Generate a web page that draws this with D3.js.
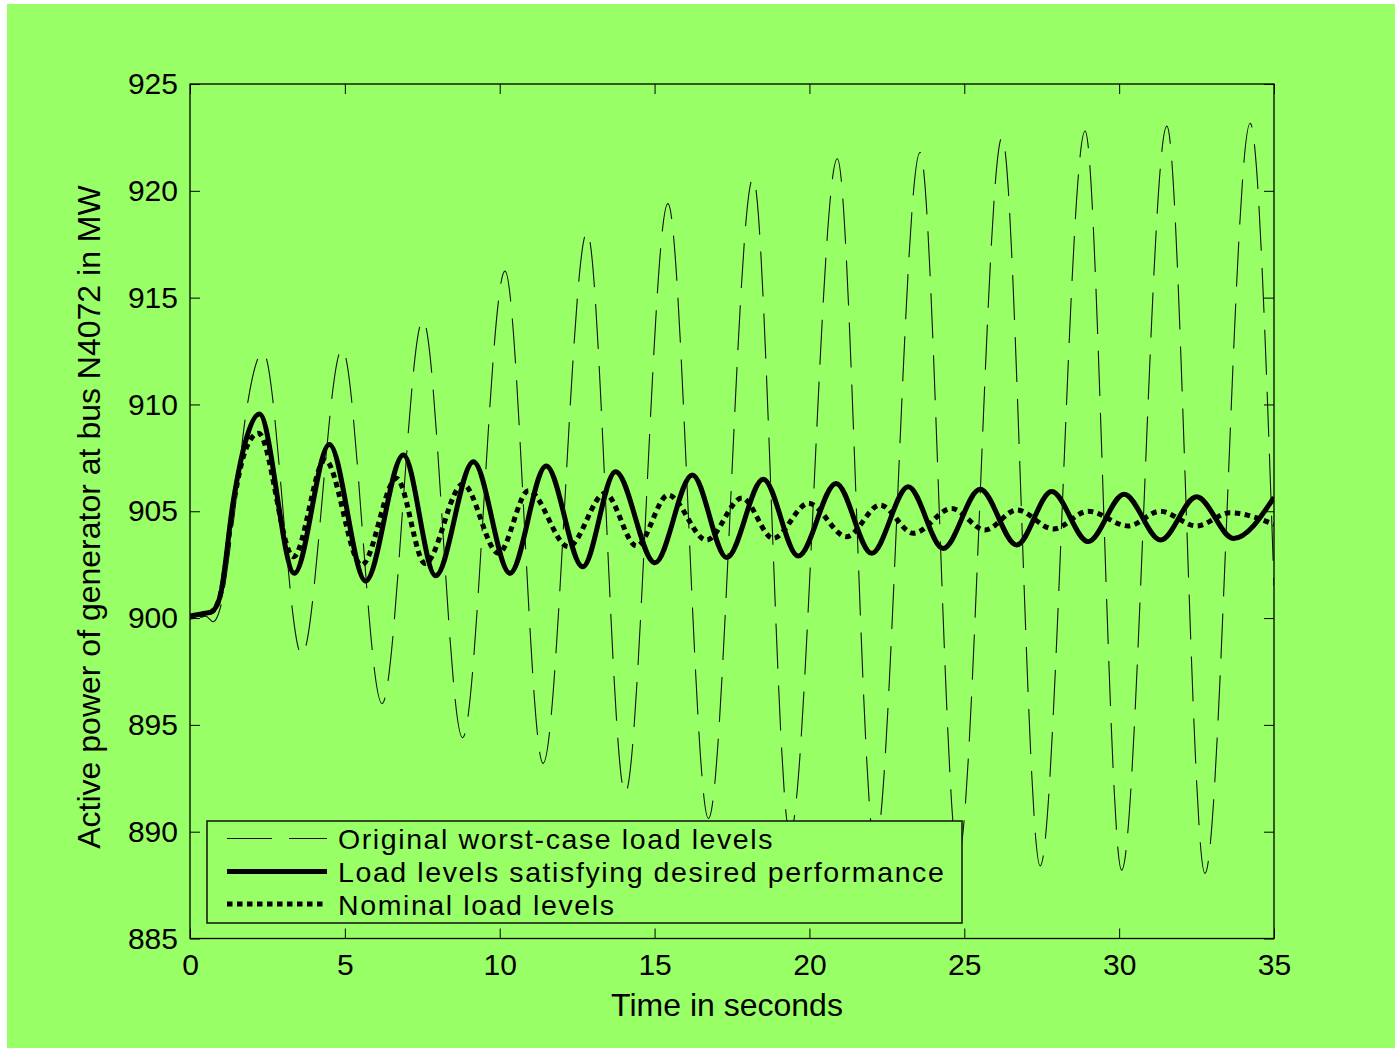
<!DOCTYPE html>
<html>
<head>
<meta charset="utf-8">
<script src="https://cdn.jsdelivr.net/npm/d3@7/dist/d3.min.js"></script>
<style>
  html, body { margin: 0; padding: 0; background: #ffffff; }
  svg { display: block; }
  text { font-family: "Liberation Sans", Arial, Helvetica, sans-serif; fill: #000; }
</style>
</head>
<body>
<svg id="chart" width="1395" height="1048"></svg>
<script>
// Axis ticks
const xTicks = [0, 5, 10, 15, 20, 25, 30, 35];
const yTicks = [885, 890, 895, 900, 905, 910, 915, 920, 925];

// Original worst-case load levels: time (s) and active power (MW) at turning points
const worstTime  = [0, 0.5, 0.75, 1.0, 1.4, 1.8, 2.36, 3.61, 4.91, 6.2, 7.52, 8.8, 10.17, 11.4, 12.82, 14.05, 15.43, 16.74, 18.18, 19.37, 20.9, 22.12, 23.57, 24.8, 26.22, 27.45, 28.9, 30.08, 31.54, 32.77, 34.23, 35.0];
const worstPower = [900.05, 900.1, 899.83, 900.6, 904.5, 909.5, 912.45, 898.27, 912.6, 896.0, 913.95, 894.4, 916.24, 893.2, 918.07, 891.8, 919.4, 890.62, 920.6, 889.9, 921.5, 889.3, 921.8, 888.8, 922.5, 888.4, 922.8, 888.2, 923.03, 888.05, 923.16, 901.5];

// Load levels satisfying desired performance
const desiredTime  = [0, 0.4, 0.7, 0.97, 1.4, 1.78, 2.24, 3.37, 4.5, 5.67, 6.89, 7.93, 9.15, 10.33, 11.5, 12.68, 13.74, 15.01, 16.22, 17.33, 18.51, 19.64, 20.86, 22.01, 23.19, 24.32, 25.51, 26.69, 27.82, 29.0, 30.16, 31.34, 32.5, 33.69, 35.0];
const desiredPower = [900.1, 900.2, 900.3, 901.0, 905.5, 908.2, 909.55, 902.1, 908.13, 901.73, 907.63, 901.98, 907.32, 902.1, 907.12, 902.4, 906.85, 902.59, 906.7, 902.83, 906.5, 902.9, 906.3, 903.03, 906.15, 903.26, 906.03, 903.42, 905.92, 903.58, 905.8, 903.65, 905.68, 903.73, 905.65];

// Nominal load levels
const nominalTime  = [0, 0.7, 1.0, 1.4, 1.8, 2.21, 3.34, 4.36, 5.54, 6.67, 7.59, 8.81, 9.96, 10.93, 12.22, 13.4, 14.42, 15.44, 16.68, 17.82, 18.83, 19.97, 21.2, 22.28, 23.36, 24.59, 25.67, 26.69, 27.88, 29.0, 30.3, 31.32, 32.5, 33.58, 35.0];
const nominalPower = [900.05, 900.3, 901.2, 905.3, 907.9, 908.65, 902.87, 907.4, 902.48, 906.54, 902.56, 906.27, 903.03, 905.96, 903.34, 905.84, 903.37, 905.76, 903.65, 905.62, 903.73, 905.37, 903.81, 905.29, 903.97, 905.13, 904.12, 905.06, 904.17, 905.0, 904.31, 905.0, 904.31, 904.93, 904.38];

const seriesNames = [
  "Original worst-case load levels",
  "Load levels satisfying desired performance",
  "Nominal load levels"
];

const W = 1395, H = 1048;
const plot = { left: 190, right: 1274, top: 84, bottom: 938.5 };
const bg = "#99ff66";

const svg = d3.select("#chart");

// page background
svg.append("rect").attr("x", 0).attr("y", 0).attr("width", W).attr("height", H).attr("fill", "#ffffff");
svg.append("rect").attr("x", 7).attr("y", 4).attr("width", W - 7).attr("height", H - 4).attr("fill", bg);

const x = d3.scaleLinear().domain([0, 35]).range([plot.left, plot.right]);
const y = d3.scaleLinear().domain([885, 925]).range([plot.bottom, plot.top]);

const zip = (t, v) => t.map((d, i) => [d, v[i]]);
const line = d3.line().x(d => x(d[0])).y(d => y(d[1])).curve(d3.curveMonotoneX);

// clip to plot box
svg.append("clipPath").attr("id", "plotClip")
  .append("rect").attr("x", plot.left).attr("y", plot.top)
  .attr("width", plot.right - plot.left).attr("height", plot.bottom - plot.top);

const lines = svg.append("g").attr("clip-path", "url(#plotClip)");

const styles = [
  { width: 1.1, dash: "45,17", color: "#111" },
  { width: 5, dash: null, color: "#000" },
  { width: 5, dash: "5.5,4.5", color: "#000" }
];
const data = [zip(worstTime, worstPower), zip(desiredTime, desiredPower), zip(nominalTime, nominalPower)];

// nominal drawn first so the thick solid sits over it, worst-case on top
[2, 1, 0].forEach(i => {
  lines.append("path")
    .datum(data[i])
    .attr("fill", "none")
    .attr("stroke", styles[i].color)
    .attr("stroke-width", styles[i].width)
    .attr("stroke-dasharray", styles[i].dash)
    .attr("stroke-linejoin", "round")
    .attr("d", line);
});

// axes with inward ticks on all four sides
const fontPx = 30;
const gx = svg.append("g").attr("transform", `translate(0,${plot.bottom})`)
  .call(d3.axisBottom(x).tickValues(xTicks).tickSize(-10).tickPadding(15.5).tickFormat(d3.format("d")));
const gy = svg.append("g").attr("transform", `translate(${plot.left},0)`)
  .call(d3.axisLeft(y).tickValues(yTicks).tickSize(-10).tickPadding(12).tickFormat(d3.format("d")));
const gt = svg.append("g").attr("transform", `translate(0,${plot.top})`)
  .call(d3.axisTop(x).tickValues(xTicks).tickSize(-10).tickFormat(""));
const gr = svg.append("g").attr("transform", `translate(${plot.right},0)`)
  .call(d3.axisRight(y).tickValues(yTicks).tickSize(-10).tickFormat(""));

[gx, gy, gt, gr].forEach(g => {
  g.select(".domain").remove();
  g.selectAll(".tick line").attr("stroke", "#000").attr("stroke-width", 1);
  g.selectAll("text")
    .attr("font-size", fontPx)
    .attr("font-family", "'Liberation Sans', Arial, sans-serif")
    .attr("fill", "#000");
});

// plot frame
svg.append("rect")
  .attr("x", plot.left).attr("y", plot.top)
  .attr("width", plot.right - plot.left).attr("height", plot.bottom - plot.top)
  .attr("fill", "none").attr("stroke", "#000").attr("stroke-width", 1.3);

// axis titles
svg.append("text")
  .attr("x", 727).attr("y", 1016)
  .attr("text-anchor", "middle").attr("font-size", 32)
  .text("Time in seconds");
svg.append("text")
  .attr("transform", "translate(100,517) rotate(-90)")
  .attr("text-anchor", "middle").attr("font-size", 32)
  .text("Active power of generator at bus N4072 in MW");

// legend
const lg = { x: 207, y: 821, w: 755, h: 102 };
const legend = svg.append("g");
legend.append("rect")
  .attr("x", lg.x).attr("y", lg.y).attr("width", lg.w).attr("height", lg.h)
  .attr("fill", bg).attr("stroke", "#111").attr("stroke-width", 1.5);
const rowY = [838.5, 871.5, 904];
seriesNames.forEach((name, i) => {
  legend.append("line")
    .attr("x1", 227).attr("x2", 327).attr("y1", rowY[i]).attr("y2", rowY[i])
    .attr("stroke", styles[i].color)
    .attr("stroke-width", styles[i].width)
    .attr("stroke-dasharray", styles[i].dash);
  legend.append("text")
    .attr("x", 338).attr("y", rowY[i] + 10.5)
    .attr("font-size", 28.5)
    .attr("letter-spacing", 1.6)
    .text(name);
});
</script>
</body>
</html>
